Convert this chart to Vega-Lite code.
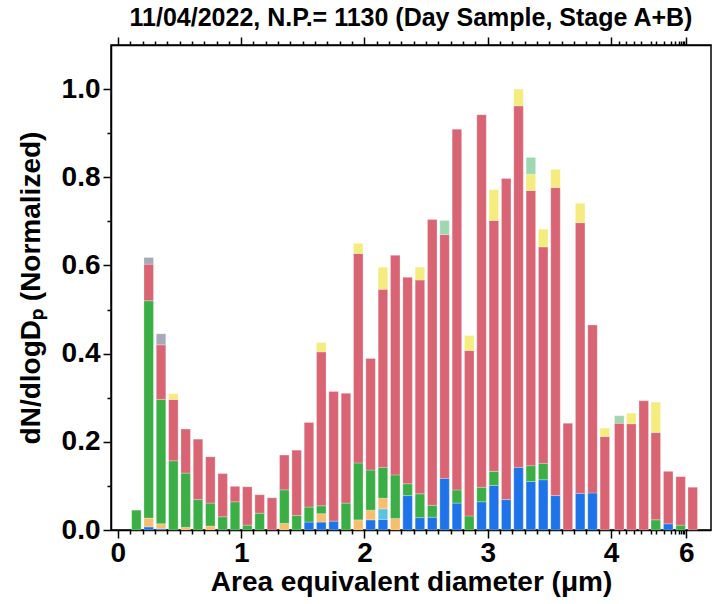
{
  "$schema": "https://vega.github.io/schema/vega-lite/v6.json",
  "width": 600,
  "height": 485,
  "autosize": "none",
  "padding": {"left": 111, "top": 45, "right": 2, "bottom": 74},
  "background": "white",
  "config": {
    "view": {"stroke": "black", "strokeWidth": 1.5},
    "axis": {
      "grid": false,
      "domainColor": "black",
      "domainWidth": 1.5,
      "tickColor": "black",
      "tickWidth": 1.5,
      "labelFont": "Liberation Sans",
      "labelFontWeight": "bold",
      "labelFontSize": 28,
      "labelColor": "black",
      "titleFont": "Liberation Sans",
      "titleFontWeight": "bold",
      "titleFontSize": 28,
      "titleColor": "black",
      "labelOverlap": false,
      "labelBound": false,
      "labelFlush": false
    }
  },
  "title": {
    "text": "11/04/2022, N.P.= 1130 (Day Sample, Stage A+B)",
    "font": "Liberation Sans",
    "fontWeight": "bold",
    "fontSize": 25,
    "color": "black",
    "anchor": "middle",
    "offset": 5
  },
  "data": {
    "values": [
      {"d": 0.15, "type": "5-green", "v": 0.045},
      {"d": 0.25, "type": "8-blue", "v": 0.007},
      {"d": 0.25, "type": "6-orange", "v": 0.020},
      {"d": 0.25, "type": "5-green", "v": 0.493},
      {"d": 0.25, "type": "4-red", "v": 0.083},
      {"d": 0.25, "type": "1-gray", "v": 0.015},
      {"d": 0.35, "type": "8-blue", "v": 0.003},
      {"d": 0.35, "type": "6-orange", "v": 0.011},
      {"d": 0.35, "type": "5-green", "v": 0.282},
      {"d": 0.35, "type": "4-red", "v": 0.124},
      {"d": 0.35, "type": "1-gray", "v": 0.025},
      {"d": 0.45, "type": "5-green", "v": 0.157},
      {"d": 0.45, "type": "4-red", "v": 0.139},
      {"d": 0.45, "type": "3-yellow", "v": 0.013},
      {"d": 0.55, "type": "6-orange", "v": 0.006},
      {"d": 0.55, "type": "5-green", "v": 0.123},
      {"d": 0.55, "type": "4-red", "v": 0.100},
      {"d": 0.65, "type": "5-green", "v": 0.069},
      {"d": 0.65, "type": "4-red", "v": 0.137},
      {"d": 0.75, "type": "6-orange", "v": 0.009},
      {"d": 0.75, "type": "5-green", "v": 0.052},
      {"d": 0.75, "type": "4-red", "v": 0.105},
      {"d": 0.85, "type": "5-green", "v": 0.030},
      {"d": 0.85, "type": "4-red", "v": 0.098},
      {"d": 0.95, "type": "5-green", "v": 0.064},
      {"d": 0.95, "type": "4-red", "v": 0.035},
      {"d": 1.05, "type": "5-green", "v": 0.011},
      {"d": 1.05, "type": "4-red", "v": 0.087},
      {"d": 1.15, "type": "5-green", "v": 0.038},
      {"d": 1.15, "type": "4-red", "v": 0.042},
      {"d": 1.25, "type": "4-red", "v": 0.073},
      {"d": 1.35, "type": "6-orange", "v": 0.015},
      {"d": 1.35, "type": "5-green", "v": 0.076},
      {"d": 1.35, "type": "4-red", "v": 0.079},
      {"d": 1.45, "type": "5-green", "v": 0.033},
      {"d": 1.45, "type": "4-red", "v": 0.148},
      {"d": 1.55, "type": "8-blue", "v": 0.018},
      {"d": 1.55, "type": "5-green", "v": 0.034},
      {"d": 1.55, "type": "4-red", "v": 0.192},
      {"d": 1.65, "type": "8-blue", "v": 0.018},
      {"d": 1.65, "type": "6-orange", "v": 0.019},
      {"d": 1.65, "type": "5-green", "v": 0.018},
      {"d": 1.65, "type": "4-red", "v": 0.349},
      {"d": 1.65, "type": "3-yellow", "v": 0.021},
      {"d": 1.75, "type": "8-blue", "v": 0.020},
      {"d": 1.75, "type": "4-red", "v": 0.294},
      {"d": 1.85, "type": "5-green", "v": 0.061},
      {"d": 1.85, "type": "4-red", "v": 0.249},
      {"d": 1.95, "type": "6-orange", "v": 0.023},
      {"d": 1.95, "type": "5-green", "v": 0.129},
      {"d": 1.95, "type": "4-red", "v": 0.475},
      {"d": 1.95, "type": "3-yellow", "v": 0.023},
      {"d": 2.05, "type": "8-blue", "v": 0.023},
      {"d": 2.05, "type": "6-orange", "v": 0.022},
      {"d": 2.05, "type": "5-green", "v": 0.091},
      {"d": 2.05, "type": "4-red", "v": 0.253},
      {"d": 2.15, "type": "8-blue", "v": 0.024},
      {"d": 2.15, "type": "7-cyan", "v": 0.024},
      {"d": 2.15, "type": "6-orange", "v": 0.024},
      {"d": 2.15, "type": "5-green", "v": 0.070},
      {"d": 2.15, "type": "4-red", "v": 0.404},
      {"d": 2.15, "type": "3-yellow", "v": 0.050},
      {"d": 2.25, "type": "6-orange", "v": 0.026},
      {"d": 2.25, "type": "5-green", "v": 0.099},
      {"d": 2.25, "type": "4-red", "v": 0.498},
      {"d": 2.35, "type": "8-blue", "v": 0.078},
      {"d": 2.35, "type": "5-green", "v": 0.027},
      {"d": 2.35, "type": "4-red", "v": 0.468},
      {"d": 2.45, "type": "8-blue", "v": 0.028},
      {"d": 2.45, "type": "5-green", "v": 0.054},
      {"d": 2.45, "type": "4-red", "v": 0.485},
      {"d": 2.45, "type": "3-yellow", "v": 0.029},
      {"d": 2.55, "type": "8-blue", "v": 0.029},
      {"d": 2.55, "type": "5-green", "v": 0.027},
      {"d": 2.55, "type": "4-red", "v": 0.648},
      {"d": 2.65, "type": "8-blue", "v": 0.117},
      {"d": 2.65, "type": "4-red", "v": 0.553},
      {"d": 2.65, "type": "2-mint", "v": 0.032},
      {"d": 2.75, "type": "8-blue", "v": 0.061},
      {"d": 2.75, "type": "5-green", "v": 0.030},
      {"d": 2.75, "type": "4-red", "v": 0.818},
      {"d": 2.85, "type": "5-green", "v": 0.032},
      {"d": 2.85, "type": "4-red", "v": 0.375},
      {"d": 2.85, "type": "3-yellow", "v": 0.034},
      {"d": 2.95, "type": "8-blue", "v": 0.064},
      {"d": 2.95, "type": "5-green", "v": 0.033},
      {"d": 2.95, "type": "4-red", "v": 0.845},
      {"d": 3.05, "type": "8-blue", "v": 0.101},
      {"d": 3.05, "type": "5-green", "v": 0.032},
      {"d": 3.05, "type": "4-red", "v": 0.569},
      {"d": 3.05, "type": "3-yellow", "v": 0.070},
      {"d": 3.15, "type": "8-blue", "v": 0.069},
      {"d": 3.15, "type": "4-red", "v": 0.728},
      {"d": 3.25, "type": "8-blue", "v": 0.142},
      {"d": 3.25, "type": "4-red", "v": 0.820},
      {"d": 3.25, "type": "3-yellow", "v": 0.038},
      {"d": 3.35, "type": "8-blue", "v": 0.110},
      {"d": 3.35, "type": "5-green", "v": 0.036},
      {"d": 3.35, "type": "4-red", "v": 0.624},
      {"d": 3.35, "type": "3-yellow", "v": 0.037},
      {"d": 3.35, "type": "2-mint", "v": 0.038},
      {"d": 3.45, "type": "8-blue", "v": 0.114},
      {"d": 3.45, "type": "5-green", "v": 0.037},
      {"d": 3.45, "type": "4-red", "v": 0.491},
      {"d": 3.45, "type": "3-yellow", "v": 0.040},
      {"d": 3.55, "type": "8-blue", "v": 0.078},
      {"d": 3.55, "type": "4-red", "v": 0.699},
      {"d": 3.55, "type": "3-yellow", "v": 0.041},
      {"d": 3.65, "type": "4-red", "v": 0.242},
      {"d": 3.75, "type": "8-blue", "v": 0.083},
      {"d": 3.75, "type": "4-red", "v": 0.614},
      {"d": 3.75, "type": "3-yellow", "v": 0.044},
      {"d": 3.85, "type": "8-blue", "v": 0.084},
      {"d": 3.85, "type": "4-red", "v": 0.381},
      {"d": 3.95, "type": "4-red", "v": 0.212},
      {"d": 3.95, "type": "3-yellow", "v": 0.019},
      {"d": 4.22, "type": "4-red", "v": 0.242},
      {"d": 4.22, "type": "2-mint", "v": 0.017},
      {"d": 4.54, "type": "4-red", "v": 0.241},
      {"d": 4.54, "type": "3-yellow", "v": 0.024},
      {"d": 4.87, "type": "4-red", "v": 0.293},
      {"d": 5.19, "type": "5-green", "v": 0.023},
      {"d": 5.19, "type": "4-red", "v": 0.198},
      {"d": 5.19, "type": "3-yellow", "v": 0.069},
      {"d": 5.52, "type": "8-blue", "v": 0.014},
      {"d": 5.52, "type": "4-red", "v": 0.119},
      {"d": 5.85, "type": "5-green", "v": 0.011},
      {"d": 5.85, "type": "4-red", "v": 0.110},
      {"d": 6.17, "type": "4-red", "v": 0.097}
    ]
  },
  "resolve": {"axis": {"x": "independent"}},
  "layer": [
    {
      "mark": {"type": "bar", "size": 9.5, "stroke": "white", "strokeWidth": 0.5, "strokeOpacity": 0.5},
      "encoding": {
        "x": {
          "field": "d",
          "type": "quantitative",
          "scale": {"domain": [0, 4, 6.6], "range": [0, 500, 600], "nice": false, "zero": false},
          "axis": {
            "orient": "bottom",
            "title": "Area equivalent diameter (μm)",
            "values": [0, 0.1, 0.2, 0.3, 0.4, 0.5, 0.6, 0.7, 0.8, 0.9, 1, 1.1, 1.2, 1.3, 1.4, 1.5, 1.6, 1.7, 1.8, 1.9, 2, 2.1, 2.2, 2.3, 2.4, 2.5, 2.6, 2.7, 2.8, 2.9, 3, 3.1, 3.2, 3.3, 3.4, 3.5, 3.6, 3.7, 3.8, 3.9, 4, 4.2, 4.4, 4.6, 4.8, 5.05, 5.2, 5.4, 5.6, 5.7, 5.8, 5.85, 5.9, 5.95, 6],
            "labelExpr": "datum.value % 1 === 0 ? format(datum.value, 'd') : ''",
            "tickSize": {"condition": {"test": "datum.value % 1 === 0", "value": 8}, "value": 4},
            "labelPadding": 1,
            "titlePadding": 1
          }
        },
        "y": {
          "field": "v",
          "type": "quantitative",
          "stack": "zero",
          "scale": {"domain": [0, 1.1], "nice": false},
          "axis": {
            "title": "dN/dlogDₚ (Normalized)",
            "values": [0, 0.1, 0.2, 0.3, 0.4, 0.5, 0.6, 0.7, 0.8, 0.9, 1.0],
            "labelExpr": "round(datum.value * 10) % 2 === 0 ? format(datum.value, '.1f') : ''",
            "tickSize": {"condition": {"test": "round(datum.value * 10) % 2 === 0", "value": 8}, "value": 4},
            "labelPadding": 3,
            "titlePadding": 16
          }
        },
        "color": {
          "field": "type",
          "type": "nominal",
          "scale": {
            "domain": ["8-blue", "7-cyan", "6-orange", "5-green", "4-red", "3-yellow", "2-mint", "1-gray"],
            "range": ["#1E73E8", "#5BC3DF", "#F7BE6E", "#3BAF45", "#D96574", "#F4EC7C", "#9FD8B0", "#A8A9B9"]
          },
          "legend": null
        }
      }
    },
    {
      "mark": {"type": "rule", "opacity": 0},
      "encoding": {
        "x": {
          "field": "d",
          "type": "quantitative",
          "axis": {
            "orient": "top",
            "title": null,
            "labels": false,
            "values": [0, 0.1, 0.2, 0.3, 0.4, 0.5, 0.6, 0.7, 0.8, 0.9, 1, 1.1, 1.2, 1.3, 1.4, 1.5, 1.6, 1.7, 1.8, 1.9, 2, 2.1, 2.2, 2.3, 2.4, 2.5, 2.6, 2.7, 2.8, 2.9, 3, 3.1, 3.2, 3.3, 3.4, 3.5, 3.6, 3.7, 3.8, 3.9, 4, 4.2, 4.4, 4.6, 4.8, 5.05, 5.2, 5.4, 5.6, 5.7, 5.8, 5.85, 5.9, 5.95, 6],
            "tickSize": {"condition": {"test": "datum.value % 1 === 0", "value": 8}, "value": 4}
          }
        }
      }
    }
  ]
}
